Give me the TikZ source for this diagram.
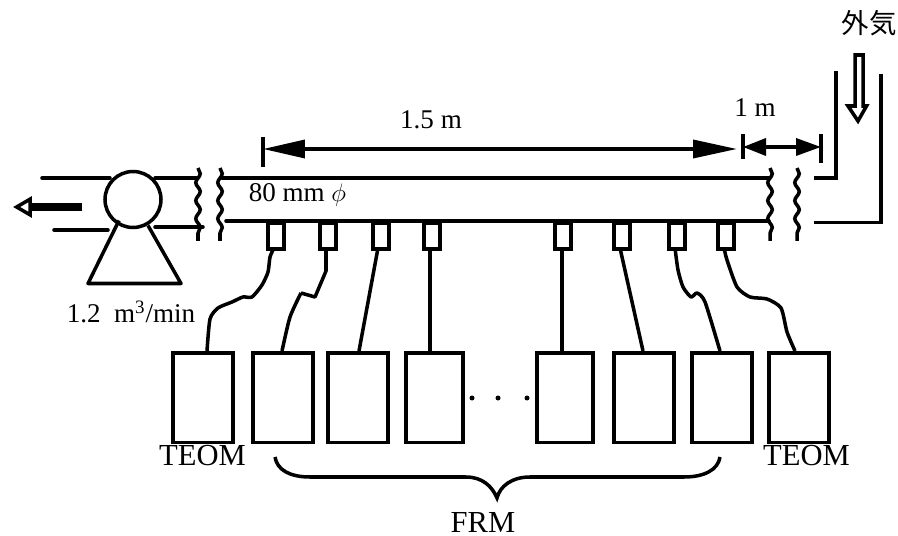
\documentclass[tikz,border=0pt]{standalone}
\usepackage{fontspec}
\setmainfont{Liberation Serif}
\newfontfamily\cjkfont{Noto Sans CJK JP}
\usetikzlibrary{positioning, calc, arrows.meta, decorations.pathmorphing}

\begin{document}
\begin{tikzpicture}[
    x=0.02cm, y=-0.02cm,
    line width=2pt,
    every node/.style={font=\fontsize{15.4}{18}\selectfont},
    bigtext/.style={font=\fontsize{17.4}{20}\selectfont},
    port/.style={rectangle, draw, fill=white, anchor=north, inner sep=0pt,
                 minimum width=0.32cm, minimum height=0.52cm},
    sampler/.style={rectangle, draw, anchor=north, inner sep=0pt, minimum height=1.8cm},
    wire/.style={line join=round},
    pipe/.style={line cap=round},
    gap/.style={decorate, decoration={snake, amplitude=0.045cm, segment length=0.36cm}},
  ]
    \useasboundingbox (0,0) rectangle (898,536);

    % Main duct
    \draw[pipe] (222,178) -- (769,178);
    \draw[pipe] (226,221) -- (769,221);
    \foreach \x in {198,220,770,797} {
      \draw[gap] (\x,168) -- (\x,241);
    }

    % Pump
    \node[circle, draw, inner sep=0pt, minimum size=1.12cm] (pump) at (133,199.5) {};
    \draw[line join=round] ($(pump)+(-14,21)$) -- ++(-31,63) -- ++(93,0) -- ($(pump)+(15,26)$);
    \draw[pipe] (42,178) -- (110,178);
    \draw[pipe] (155,178) -- (197,178);
    \draw[pipe] (54,230) -- (108,230);
    \draw[pipe] (155,227) -- (203,227);
    \coordinate (outS) at (82,207);
    \coordinate (outE) at (13,207);
    \draw[line width=4pt, -{Triangle[open, length=0.38cm, width=0.42cm, line width=2pt]}] (outS) -- (outE);

    % Inlet
    \draw (814,178) -- (836,178) -- (836,71);
    \draw (814,222.5) -- (881,222.5) -- (881,74);
    \draw[line join=miter] (855,55) -- (863,55) -- (863,106) -- (866.5,106) -- (858,121) -- (848,106) -- (855,106) -- cycle;
    \node[font=\fontsize{15.6}{18}\selectfont\cjkfont, inner sep=0pt] (air) at (869,23) {外気};

    % Dimensions
    \coordinate (dimA) at (263,149);
    \coordinate (dimB) at (737,149);
    \coordinate (dimC) at (743,147);
    \coordinate (dimD) at (821,147);
    \draw (263,137) -- (263,167);
    \draw (743,134) -- (743,159);
    \draw (821,134) -- (821,163);
    \draw[{Triangle[length=0.84cm, width=0.36cm]}-{Triangle[length=0.88cm, width=0.36cm]}] (dimA) -- (dimB);
    \draw[{Triangle[length=0.46cm, width=0.34cm]}-{Triangle[length=0.5cm, width=0.34cm]}] (dimC) -- (dimD);
    \node (lenA) at (431,120) {1.5 m};
    \node (lenB) at (755,108) {1 m};
    \node[anchor=west, inner sep=0pt] (dia) at (247,195) {80 mm $\phi$};
    \node[anchor=west, inner sep=0pt] (flow) at (65,312) {1.2\enspace m\textsuperscript{3}/min};

    % Ports on the duct
    \foreach \x/\name in {276/P1, 328/P2, 381/P3, 432/P4, 563/P5, 622/P6, 677/P7, 726/P8} {
      \node[port] (\name) at (\x,221) {};
    }

    % Samplers
    \foreach \x/\w/\name in {203/1.2/B1, 283/1.2/B2, 358/1.2/B3, 434.5/1.14/B4, 565/1.12/B5, 644/1.2/B6, 722/1.2/B7, 799/1.2/B8} {
      \node[sampler, minimum width=\w cm] (\name) at (\x,351) {};
    }

    % Tubes
    \draw[wire] plot[smooth, tension=0.4] coordinates {(274,248) (270,257) (268,272) (262,285) (252,297) (243,297) (232,302) (218,308) (210,319) (207,351)};
    \draw[wire] (326,248) -- (326,271) -- (315,297) -- (301,293) plot[smooth, tension=0.4] coordinates {(301,293) (290,317) (282,351)};
    \draw[wire] (378,248) -- (359,351);
    \draw[wire] (430,248) -- (430,351);
    \draw[wire] (562,248) -- (562,351);
    \draw[wire] (620,248) -- (643,351);
    \draw[wire] plot[smooth, tension=0.4] coordinates {(675,248) (678,270) (683,287) (691,297) (697,293) (705,302) (720,351)};
    \draw[wire] plot[smooth, tension=0.4] coordinates {(724,248) (727,260) (737,287) (750,297) (767,299) (781,308) (787,332) (795,351)};

    % Dots between samplers
    \foreach \x/\name in {472/D1, 498/D2, 527/D3} {
      \node[circle, fill, inner sep=0pt, minimum size=0.1cm] (\name) at (\x,398) {};
    }

    % Labels below
    \node[bigtext] (teomL) at (202.5,456) {TEOM};
    \node[bigtext] (teomR) at (806.5,456) {TEOM};
    \coordinate (frmA) at (275,457);
    \coordinate (frmTip) at (497,498);
    \coordinate (frmB) at (720,457);
    \draw (frmA) .. controls (277,470) and (290,477) .. (310,477) -- (466,477)
      .. controls (482,477) and (492,486) .. (frmTip)
      .. controls (500,486) and (512,477) .. (530,477) -- (684,477)
      .. controls (704,477) and (718,470) .. (frmB);
    \node[bigtext] (frm) at (483,522) {FRM};
\end{tikzpicture}
\end{document}
